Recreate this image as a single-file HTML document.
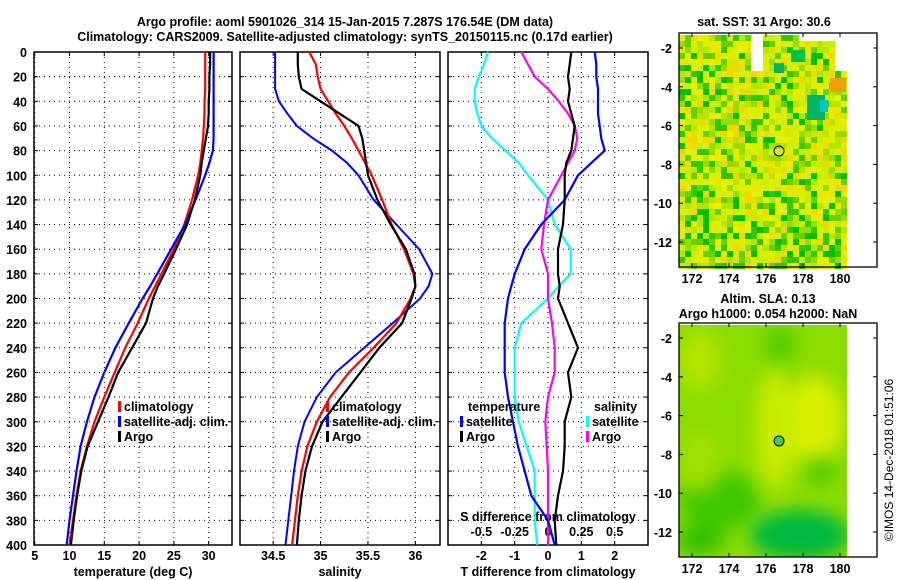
<!DOCTYPE html>
<html><head><meta charset="utf-8">
<style>
body{margin:0;background:#fff;}
svg{display:block;font-family:"Liberation Sans",Arial,sans-serif;font-weight:bold;font-size:12.5px;}
</style></head>
<body>
<svg id="c" width="900" height="580" xmlns="http://www.w3.org/2000/svg">
<defs>
<clipPath id="clip2"><rect x="679" y="325" width="168" height="232"/></clipPath>
<filter id="bl" x="-50%" y="-50%" width="200%" height="200%"><feGaussianBlur stdDeviation="9"/></filter>
</defs>
<text x="345" y="26" text-anchor="middle">Argo profile: aoml 5901026_314 15-Jan-2015 7.287S 176.54E (DM data)</text>
<text x="345" y="41" text-anchor="middle">Climatology: CARS2009. Satellite-adjusted climatology: synTS_20150115.nc (0.17d earlier)</text>
<text x="764" y="26" text-anchor="middle">sat. SST: 31 Argo: 30.6</text>
<text x="768" y="303" text-anchor="middle">Altim. SLA: 0.13</text>
<text x="768" y="318" text-anchor="middle">Argo h1000: 0.054 h2000: NaN</text>
<text transform="translate(893,460) rotate(-90)" text-anchor="middle" font-weight="normal" font-size="12">©IMOS 14-Dec-2018 01:51:06</text>
<g id="plots"></g>
</svg>
<script>
// ---------- data ----------
const depths = [0,10,20,30,40,50,60,70,80,90,100,120,140,160,180,190,200,220,240,260,280,300,320,340,360,380,400];
const tClim  = [29.5,29.5,29.5,29.5,29.4,29.4,29.3,29.2,29.0,28.8,28.5,27.6,26.5,25.0,23.2,22.3,21.4,19.8,18.0,16.5,15.0,13.6,12.5,11.6,11.0,10.5,10.0];
const tSat   = [30.7,30.7,30.7,30.7,30.7,30.7,30.7,30.7,30.6,30.1,29.5,28.1,26.6,24.6,22.6,21.6,20.5,18.5,16.6,15.0,13.6,12.5,11.6,11.0,10.5,10.0,9.6];
const tArgo  = [30.2,30.2,30.1,30.1,30.0,30.0,29.9,29.6,29.3,29.0,28.8,28.0,26.9,25.3,23.6,22.7,22.0,21.0,19.0,17.0,15.6,14.1,12.6,11.7,11.1,10.6,10.2];
const sClim  = [34.88,34.95,34.97,35.0,35.08,35.16,35.25,35.33,35.4,35.47,35.54,35.65,35.75,35.88,35.98,36.0,35.95,35.8,35.56,35.3,35.1,34.96,34.86,34.8,34.76,34.73,34.7];
const sSat   = [34.52,34.52,34.52,34.52,34.56,34.65,34.75,34.92,35.12,35.28,35.4,35.56,35.8,36.04,36.18,36.14,36.05,35.76,35.46,35.16,34.96,34.83,34.76,34.72,34.69,34.66,34.63];
const sArgo  = [34.76,34.76,34.77,34.8,35.0,35.2,35.4,35.44,35.46,35.48,35.5,35.6,35.74,35.9,35.99,36.0,35.96,35.86,35.62,35.42,35.22,35.02,34.91,34.84,34.8,34.77,34.75];
const dtSat  = [1.4,1.45,1.45,1.5,1.5,1.5,1.55,1.6,1.7,1.3,0.9,0.5,-0.2,-0.7,-1.0,-1.1,-1.2,-1.3,-1.3,-1.3,-1.2,-1.05,-0.9,-0.7,-0.5,0.0,0.2];
const dtArgo = [0.7,0.65,0.6,0.65,0.6,0.7,0.8,0.75,0.7,0.55,0.5,0.5,0.45,0.3,0.3,0.35,0.3,0.6,0.9,0.6,0.7,0.5,0.5,0.45,0.3,0.2,0.25];
const dsSat  = [-0.45,-0.48,-0.52,-0.55,-0.55,-0.53,-0.5,-0.42,-0.32,-0.22,-0.15,0.0,0.05,0.17,0.17,0.08,0.0,-0.2,-0.25,-0.25,-0.25,-0.22,-0.16,-0.1,-0.1,-0.1,-0.08];
const dsArgo = [-0.2,-0.15,-0.1,0.0,0.08,0.15,0.2,0.22,0.2,0.15,0.1,0.0,-0.03,-0.05,0.0,0.0,0.0,0.03,0.05,0.05,0.0,-0.02,-0.01,0.0,0.0,0.0,0.0];
const depthTicks = [0,20,40,60,80,100,120,140,160,180,200,220,240,260,280,300,320,340,360,380,400];
const tTicks = [5,10,15,20,25,30];
const sTicks = [34.5,35,35.5,36];
const dtTicks = [-2,-1,0,1,2];
const dsTicks = [-0.5,-0.25,0,0.25,0.5];
const dsTickLabels = ["-0.5","-0.25","0","0.25","0.5"];
const lonTicks = [172,174,176,178,180];
const latTicks = [-2,-4,-6,-8,-10,-12];

const NS="http://www.w3.org/2000/svg";
const root=document.getElementById('plots');
function el(tag,attrs,parent){const e=document.createElementNS(NS,tag);for(const k in attrs)e.setAttribute(k,attrs[k]);(parent||root).appendChild(e);return e;}
function txt(x,y,s,anchor,parent){const t=el('text',{x:x,y:y,'text-anchor':anchor||'middle'},parent);t.textContent=s;return t;}

const top0=52,bot0=545;
const yD=d=>top0+(d/400)*(bot0-top0);
function panel(x0,x1,xmin,xmax){return v=>x0+(v-xmin)/(xmax-xmin)*(x1-x0);}
const P=[
 {x0:34,x1:232,sx:panel(34,232,4.9,33.35),ticks:tTicks,label:'temperature (deg C)',name:'temperature-panel'},
 {x0:240,x1:440,sx:panel(240,440,34.15,36.26),ticks:sTicks,label:'salinity',name:'salinity-panel'},
 {x0:448,x1:648,sx:panel(448,648,-3,3),ticks:dtTicks,label:'T difference from climatology',name:'difference-panel'}
];
P.forEach((p,i)=>{
 const g=el('g',{});
 
 
 p.ticks.forEach(t=>{const l=el('line',{x1:p.sx(t),x2:p.sx(t),y1:top0,y2:bot0,stroke:'#000','stroke-dasharray':'1,4','stroke-width':1},g);
   
   el('line',{x1:p.sx(t),x2:p.sx(t),y1:bot0,y2:bot0-4,stroke:'#000'},g);el('line',{x1:p.sx(t),x2:p.sx(t),y1:top0,y2:top0+4,stroke:'#000'},g);
   const tl=txt(p.sx(t),560,String(t),'middle',g);});
 depthTicks.forEach(d=>{if(d>0&&d<400){const l=el('line',{x1:p.x0,x2:p.x1,y1:yD(d),y2:yD(d),stroke:'#000','stroke-dasharray':'1,4'},g);
   }
   el('line',{x1:p.x0,x2:p.x0+4,y1:yD(d),y2:yD(d),stroke:'#000'},g);el('line',{x1:p.x1,x2:p.x1-4,y1:yD(d),y2:yD(d),stroke:'#000'},g);
   if(i==0){const tl=txt(27,yD(d)+5,String(d),'end',g);}});
 const r=el('rect',{x:p.x0,y:top0,width:p.x1-p.x0,height:bot0-top0,fill:'none',stroke:'#000','stroke-width':1.5},g);
 
 const xl=txt((p.x0+p.x1)/2,576,p.label,'middle',g);
 
});
const dsx=v=>P[2].sx(v*4);
dsTicks.forEach((t,i)=>{const tl=txt(dsx(t),536,dsTickLabels[i]);});
const st=txt(548,521,'S difference from climatology');

function line(vals,sx,color,w,name){
 const pts=vals.map((v,i)=>sx(v).toFixed(1)+','+yD(depths[i]).toFixed(1)).join(' ');
 const pl=el('polyline',{points:pts,fill:'none',stroke:color,'stroke-width':w});
 
 
}
line(tClim,P[0].sx,'#f00',2.2,'temperature-climatology-line');
line(tSat,P[0].sx,'#00f',2.2,'temperature-satellite-line');
line(tArgo,P[0].sx,'#000',2.2,'temperature-argo-line');
line(sSat,P[1].sx,'#00f',2,'salinity-satellite-line');
line(sClim,P[1].sx,'#f00',2.2,'salinity-climatology-line');
line(sArgo,P[1].sx,'#000',2.2,'salinity-argo-line');
line(dsSat,dsx,'#0ff',2.2,'s-diff-satellite-line');
line(dsArgo,dsx,'#f0f',2.2,'s-diff-argo-line');
line(dtSat,P[2].sx,'#00f',2.2,'t-diff-satellite-line');
line(dtArgo,P[2].sx,'#000',2.2,'t-diff-argo-line');

function legend(x,y,color,label){
 const g=el('g',{});
 
 
 el('rect',{x:x,y:y-10,width:3,height:11,fill:color},g);
 txt(x+6,y,label,'start',g);
}
legend(118,411,'#f00','climatology');legend(118,426,'#00f','satellite-adj. clim.');legend(118,441,'#000','Argo');
legend(326,411,'#f00','climatology');legend(326,426,'#00f','satellite-adj. clim.');legend(326,441,'#000','Argo');
const lt=txt(468,411,'temperature','start');
legend(460,426,'#00f','satellite');legend(460,441,'#000','Argo');
const ls=txt(594,411,'salinity','start');
legend(586,426,'#0ff','satellite');legend(586,441,'#f0f','Argo');

// ---------- maps ----------
const lonX=lon=>692+(lon-172)*18.5;
function hsh(a,b){let h=(a*374761393+b*668265263)^0x5bd1e995;h=(h^(h>>>13))*1274126177;return ((h^(h>>>16))>>>0)/4294967296;}
function mapFrame(yTop,yBot,latY,name,cells){
 const g=el('g',{});
 
 
 el('rect',{x:679,y:yTop,width:198,height:yBot-yTop,fill:'#fff'},g);
 cells(g);
 lonTicks.forEach(l=>{el('line',{x1:lonX(l),x2:lonX(l),y1:yBot,y2:yBot-4,stroke:'#000'},g);el('line',{x1:lonX(l),x2:lonX(l),y1:yTop,y2:yTop+4,stroke:'#000'},g);
  const t=txt(lonX(l),yBot+16,String(l),'middle',g);});
 latTicks.forEach(l=>{const y=latY(l);el('line',{x1:679,x2:683,y1:y,y2:y,stroke:'#000'},g);el('line',{x1:877,x2:873,y1:y,y2:y,stroke:'#000'},g);
  const t=txt(672,y+5,String(l),'end',g);});
 el('rect',{x:679,y:yTop,width:198,height:yBot-yTop,fill:'none',stroke:'#000','stroke-width':1.3},g);
 return g;
}
const sstPal=['#c8ee00','#b4e600','#e6f000','#96dc00','#64d200','#e8e800','#f0d800','#32c800','#00c000','#d8f000','#e0ec00'];
mapFrame(33,267,l=>48+(-2-l)*19.4,'sst-map',g=>{
 el('rect',{x:679,y:35,width:168,height:232,fill:'#b4e600'},g);
 for(let i=0;i<28;i++)for(let j=0;j<39;j++){const r=hsh(i,j);let c=sstPal[Math.floor(r*sstPal.length)];
  const yy=35+j*6,xx=679+i*6;
  if((xx>745&&xx<760&&yy<70)||(xx>795&&yy<40)||(xx>830&&yy<70&&yy>40))c='#fff';
  el('rect',{x:xx,y:yy,width:6.2,height:6.2,fill:c},g);}
 [[807,95,18,25,'#00b464'],[820,100,8,12,'#00c8c8'],[791,50,14,12,'#00c050'],[774,63,10,10,'#00b464'],[830,78,16,14,'#f0a000']].forEach(b=>el('rect',{x:b[0],y:b[1],width:b[2],height:b[3],fill:b[4]},g));
 const c=el('circle',{cx:779,cy:151,r:5,fill:'none',stroke:'#000'},g);
 
});
mapFrame(323,557,l=>338+(-2-l)*19.4,'sla-map',g=>{
 const cg=el('g',{'clip-path':'url(#clip2)'},g);
 el('rect',{x:679,y:325,width:168,height:232,fill:'#8cdc00'},cg);
 const b=el('g',{filter:'url(#bl)'},cg);
 [[815,420,28,45,'#d8f000'],[775,430,20,60,'#c8ec00'],[700,360,20,30,'#b4e600'],[780,345,14,20,'#50cc00'],[720,500,40,30,'#3cc800'],[800,535,50,25,'#00b840'],[700,540,25,15,'#30c000'],[820,470,16,16,'#50cc00'],[700,460,20,30,'#a0e000']].forEach(e=>el('ellipse',{cx:e[0],cy:e[1],rx:e[2],ry:e[3],fill:e[4]},b));
 const c=el('circle',{cx:779,cy:441,r:5,fill:'#3cd23c',stroke:'#000'},g);
 
});
</script>
</body></html>
